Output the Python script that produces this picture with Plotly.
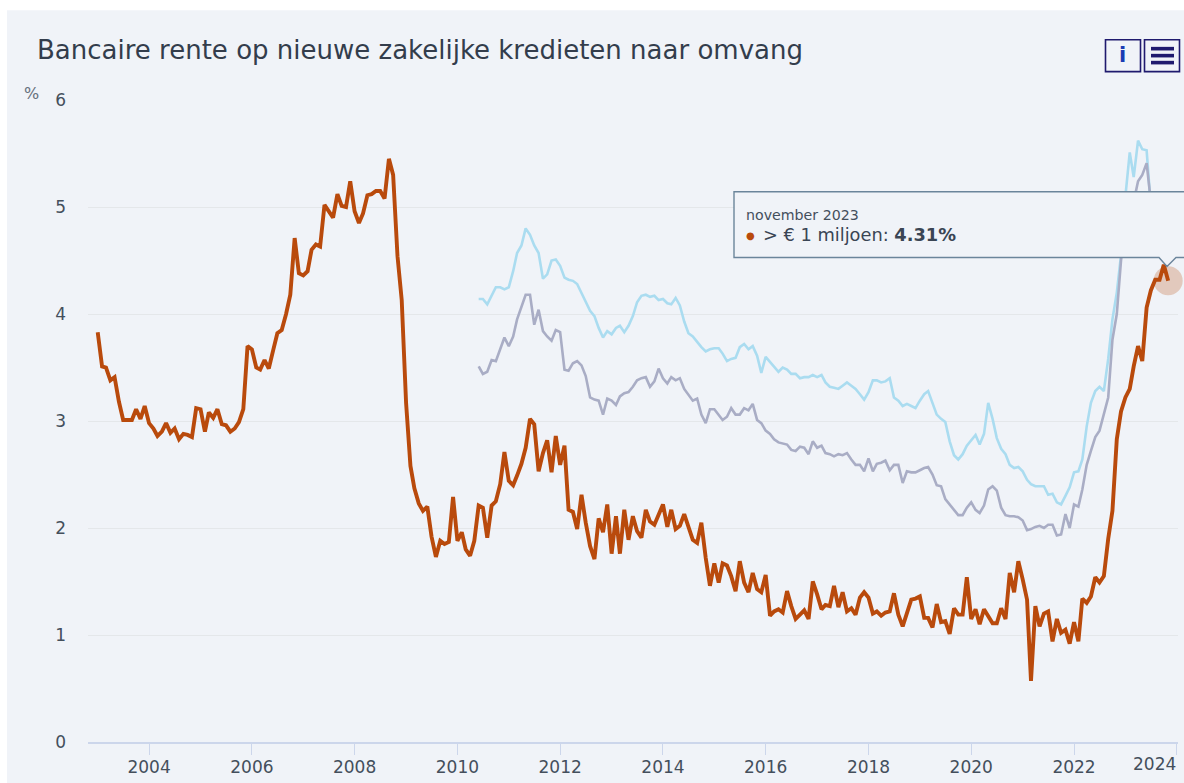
import pandas as pd
import plotly.graph_objects as go

title = "Bancaire rente op nieuwe zakelijke kredieten naar omvang"
months_large = pd.date_range("2003-01-01", "2023-11-01", freq="MS")
months_small = pd.date_range("2010-06-01", "2023-11-01", freq="MS")

large = [
    3.83,3.51,3.50,3.38,3.41,3.18,3.01,3.01,3.01,3.11,3.02,3.14,
    2.98,2.93,2.86,2.90,2.98,2.89,2.93,2.83,2.88,2.87,2.85,3.12,
    3.11,2.90,3.08,3.03,3.11,2.97,2.96,2.90,2.93,2.99,3.11,3.70,
    3.67,3.50,3.48,3.57,3.49,3.66,3.82,3.85,4.00,4.18,4.71,4.38,
    4.36,4.40,4.60,4.65,4.63,5.02,4.96,4.90,5.12,5.01,5.00,5.24,
    4.96,4.85,4.94,5.11,5.12,5.15,5.15,5.08,5.45,5.30,4.54,4.13,
    3.17,2.58,2.37,2.23,2.16,2.20,1.92,1.73,1.88,1.85,1.87,2.29,
    1.88,1.96,1.80,1.74,1.88,2.21,2.19,1.91,2.21,2.25,2.41,2.71,
    2.44,2.40,2.49,2.60,2.75,3.02,2.97,2.53,2.70,2.82,2.52,2.86,
    2.59,2.77,2.17,2.15,1.99,2.31,2.05,1.83,1.71,2.09,1.96,2.22,
    1.76,2.11,1.76,2.17,1.89,2.11,1.97,1.91,2.17,2.06,2.03,2.13,
    2.22,2.01,2.17,1.99,2.02,2.13,2.00,1.89,1.86,2.05,1.72,1.46,
    1.67,1.49,1.67,1.65,1.55,1.41,1.69,1.49,1.40,1.58,1.43,1.40,
    1.56,1.18,1.22,1.24,1.21,1.41,1.27,1.15,1.19,1.23,1.15,1.50,
    1.38,1.24,1.28,1.27,1.46,1.26,1.40,1.22,1.25,1.19,1.35,1.40,
    1.35,1.20,1.22,1.18,1.21,1.22,1.39,1.19,1.08,1.19,1.33,1.34,
    1.36,1.16,1.16,1.07,1.29,1.12,1.13,1.01,1.25,1.19,1.19,1.54,
    1.15,1.24,1.10,1.24,1.18,1.11,1.11,1.25,1.15,1.58,1.40,1.69,
    1.52,1.33,0.57,1.27,1.08,1.20,1.22,0.94,1.15,1.02,1.05,0.92,
    1.12,0.94,1.34,1.30,1.36,1.54,1.49,1.55,1.90,2.16,2.83,3.09,
    3.22,3.30,3.51,3.70,3.56,4.06,4.22,4.32,4.32,4.46,4.31,
]
small = [
    4.14,4.14,4.09,4.17,4.25,4.25,4.23,
    4.25,4.40,4.57,4.64,4.80,4.74,4.64,4.57,4.33,4.37,4.50,4.51,
    4.45,4.34,4.32,4.31,4.28,4.20,4.11,4.03,3.98,3.87,3.78,3.84,
    3.81,3.87,3.89,3.83,3.89,3.98,4.11,4.17,4.18,4.16,4.17,4.13,
    4.14,4.10,4.09,4.15,4.08,3.93,3.82,3.79,3.74,3.69,3.65,3.67,
    3.68,3.68,3.63,3.56,3.58,3.59,3.69,3.72,3.67,3.70,3.61,3.45,
    3.60,3.55,3.50,3.46,3.50,3.48,3.44,3.44,3.40,3.41,3.41,3.43,
    3.41,3.43,3.36,3.32,3.31,3.30,3.33,3.36,3.33,3.30,3.25,3.20,
    3.27,3.38,3.38,3.36,3.37,3.40,3.22,3.19,3.14,3.16,3.14,3.12,
    3.19,3.25,3.28,3.17,3.06,3.02,2.99,2.81,2.68,2.64,2.69,2.77,
    2.82,2.87,2.78,2.88,3.17,3.02,2.84,2.74,2.69,2.59,2.56,2.57,
    2.53,2.45,2.41,2.39,2.39,2.39,2.31,2.32,2.24,2.22,2.30,2.38,
    2.52,2.53,2.64,2.95,3.17,3.28,3.32,3.28,3.58,3.95,4.20,4.55,
    5.10,5.51,5.28,5.62,5.54,5.53,5.00,4.70,4.75,4.80,4.70,
]
medium = [
    3.51,3.44,3.46,3.57,3.56,3.67,3.78,
    3.70,3.79,3.95,4.06,4.18,4.18,3.90,4.04,3.84,3.79,3.75,3.85,
    3.83,3.48,3.47,3.54,3.56,3.52,3.42,3.22,3.20,3.19,3.06,3.21,
    3.19,3.15,3.23,3.26,3.27,3.32,3.38,3.40,3.41,3.32,3.37,3.49,
    3.40,3.35,3.41,3.38,3.40,3.30,3.24,3.19,3.21,3.06,2.98,3.11,
    3.11,3.06,3.01,3.04,3.12,3.06,3.06,3.12,3.10,3.16,3.01,2.98,
    2.91,2.88,2.83,2.80,2.79,2.78,2.73,2.72,2.76,2.75,2.69,2.81,
    2.75,2.77,2.70,2.69,2.67,2.69,2.68,2.70,2.64,2.59,2.59,2.53,
    2.65,2.53,2.60,2.61,2.63,2.54,2.59,2.59,2.42,2.53,2.52,2.52,
    2.54,2.56,2.57,2.50,2.40,2.39,2.27,2.22,2.17,2.12,2.12,2.19,
    2.24,2.17,2.14,2.21,2.36,2.39,2.35,2.19,2.12,2.11,2.11,2.10,
    2.07,1.98,1.99,2.01,2.02,2.00,2.03,2.03,1.93,1.94,2.13,2.00,
    2.22,2.20,2.36,2.59,2.72,2.85,2.91,3.06,3.22,3.76,4.00,4.50,
    4.90,5.00,5.05,5.24,5.30,5.41,5.05,4.80,4.70,4.75,4.65,
]
names = ["> € 1 miljoen", "€ 250.000 - € 1 miljoen", "< € 250.000"]
colors = ["#b94a0c", "#a9adc5", "#aadcf0"]
year_ticks = [f"{y}-01-01" for y in range(2004, 2025, 2)]
year_labels = [str(y) for y in range(2004, 2023, 2)] + [""]

# pixel helpers for page furniture only (panel, tooltip box, buttons)
L, R, T, B = 88, 1178, 100, 744
fx = lambda p: (p - L) / (R - L)
fy = lambda p: (B - p) / (B - T)
PANEL = "#f0f3f8"

fig = go.Figure()
fig.add_trace(go.Scatter(x=months_small, y=small, mode="lines", name=names[2],
                         line=dict(color=colors[2], width=2.6)))
fig.add_trace(go.Scatter(x=months_small, y=medium, mode="lines", name=names[1],
                         line=dict(color=colors[1], width=2.6)))
fig.add_trace(go.Scatter(x=months_large[-1:], y=large[-1:], mode="markers", hoverinfo="skip",
                         cliponaxis=False,
                         marker=dict(size=29, color=colors[0], opacity=0.25, line=dict(width=0))))
fig.add_trace(go.Scatter(x=months_large, y=large, mode="lines", name=names[0],
                         line=dict(color=colors[0], width=3.9)))

shapes = [
    dict(type="rect", xref="paper", yref="paper", x0=fx(7), x1=fx(1190), y0=fy(10), y1=fy(790),
         fillcolor=PANEL, line_width=0, layer="below"),
    dict(type="path", xref="paper", yref="paper", layer="above", fillcolor=PANEL,
         line=dict(color="#6b859b", width=1.4),
         path=f"M {fx(734)} {fy(192)} L {fx(1195)} {fy(192)} L {fx(1195)} {fy(258)} "
              f"L {fx(1176)} {fy(258)} L {fx(1167)} {fy(267)} L {fx(1159)} {fy(258)} "
              f"L {fx(734)} {fy(258)} Z"),
]
for x0, x1 in [(1105.5, 1140.5), (1144.5, 1179.5)]:
    shapes.append(dict(type="rect", xref="paper", yref="paper", x0=fx(x0), x1=fx(x1),
                       y0=fy(39.5), y1=fy(71.5), fillcolor=PANEL, layer="above",
                       line=dict(color="#1f1a6e", width=1.6)))
for y in (48.5, 55.5, 62.5):
    shapes.append(dict(type="line", xref="paper", yref="paper", x0=fx(1151), x1=fx(1174),
                       y0=fy(y), y1=fy(y), layer="above", line=dict(color="#1f1a6e", width=3.6)))

FONT = "DejaVu Sans"
ann = [
    dict(text=title, x=fx(34.5), y=fy(50), font=dict(size=26, color="#333d4c"), xanchor="left"),
    dict(text="%", x=fx(31), y=fy(93), font=dict(size=16, color="#66707c"), xanchor="center"),
    dict(text="november 2023", x=fx(744), y=fy(215), font=dict(size=14.2, color="#444f5c"), xanchor="left"),
    dict(text="●", x=fx(750), y=fy(236), font=dict(size=10, color=colors[0]), xanchor="center"),
    dict(text="> € 1 miljoen: <b>4.31%</b>", x=fx(761), y=fy(235), font=dict(size=17.8, color="#3a4554"), xanchor="left"),
    dict(text="<b>i</b>", x=fx(1122.5), y=fy(55), font=dict(size=21, color="#1a3cb4"), xanchor="center"),
    dict(text="2024", x=fx(1178), y=fy(766), font=dict(size=17, color="#444f5c"), xanchor="right"),
]
for a in ann:
    a.update(xref="paper", yref="paper", yanchor="middle", showarrow=False)

fig.update_layout(
    width=1184, height=783, showlegend=False, autosize=False,
    margin=dict(l=L, r=1184 - R, t=T, b=783 - B, pad=0),
    paper_bgcolor="white", plot_bgcolor="rgba(0,0,0,0)",
    font=dict(family=FONT, size=17, color="#444f5c"),
    shapes=shapes, annotations=ann,
    xaxis=dict(type="date", range=["2002-10-24", "2024-01-10"], tickmode="array",
               tickvals=year_ticks, ticktext=year_labels, showgrid=False, zeroline=False,
               showline=True, linecolor="#ccd6eb", linewidth=1.5, ticks="outside",
               ticklen=11, tickwidth=1, tickcolor="#ccd6eb", ticklabelstandoff=-2,
               tickfont=dict(size=17, color="#444f5c")),
    yaxis=dict(range=[0, 6], tickvals=[0, 1, 2, 3, 4, 5, 6], showgrid=True, gridcolor="#e4e7ea",
               gridwidth=1.4, zeroline=False, showline=False, ticks="", ticklabelstandoff=21,
               tickfont=dict(size=17, color="#444f5c")),
    hovermode="closest",
)
fig.write_html("out.html", config=dict(displayModeBar=False),
               post_script="document.body.style.margin='0';document.documentElement.style.overflow='hidden';")
